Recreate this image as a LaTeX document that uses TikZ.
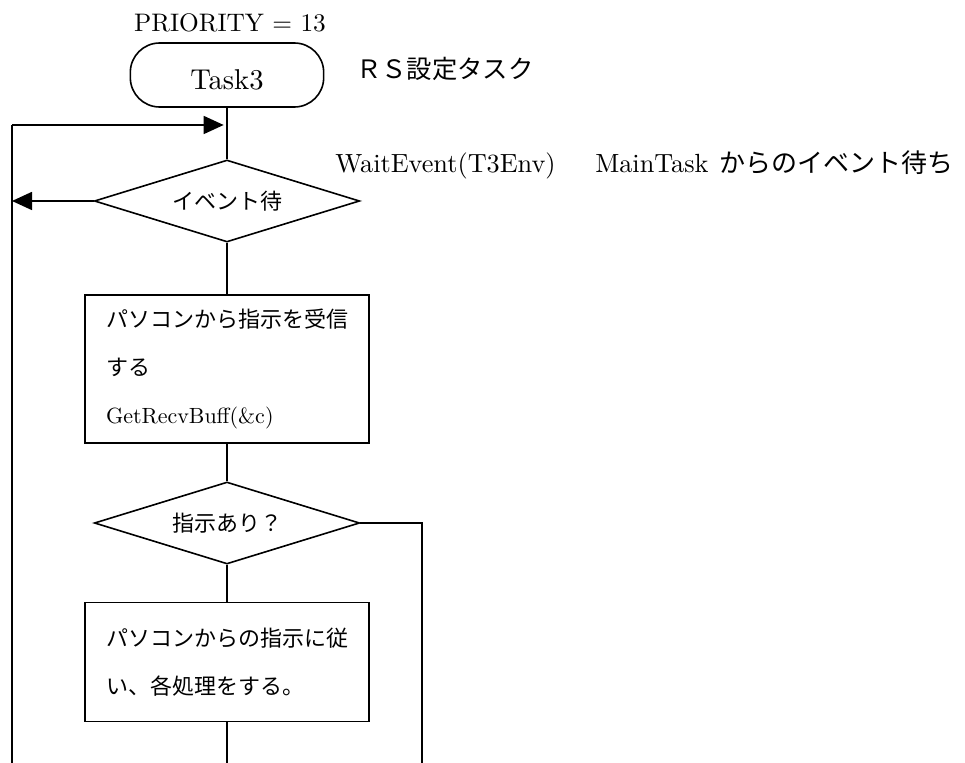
\documentclass[tikz,border=0pt]{standalone}
\usepackage{fontspec}
\setmainfont{lmroman10-regular}[Extension=.otf,BoldFont=lmroman10-bold]
\newfontfamily\jp{Noto Sans CJK JP}
\usetikzlibrary{arrows.meta,shapes.geometric,calc,positioning}

\begin{document}
\begin{tikzpicture}[x=0.75pt,y=-0.75pt,
    flowline/.style={line width=1.2pt},
    flowarrow/.style={line width=1.2pt,-{Triangle[length=15pt,width=13.5pt]}},
    terminal/.style={draw,line width=1.2pt,rounded corners=22pt,minimum width=145pt,minimum height=48pt,text height=22pt,font=\fontsize{21.5}{25}\selectfont},
    decision/.style={draw,diamond,aspect=3.2,inner sep=0pt,line width=1.2pt,minimum width=199pt,minimum height=61.5pt,font=\jp\fontsize{16.5}{20}\selectfont},
    process/.style={draw,rectangle,line width=1.2pt,minimum width=213pt,align=left,font=\fontsize{16.5}{36}\selectfont},
    note/.style={inner sep=0pt,font=\fontsize{19}{23}\selectfont}]

    \useasboundingbox (0,0) rectangle (965,763);

    % draw nodes
    \node[note,anchor=base] (prio) at (230,32) {PRIORITY = 13};
    \node[terminal] (task) at (227,75) {Task3};
    \node[note,anchor=west] (title) at (356,69) {\jp ＲＳ設定タスク};
    \node[decision] (wait) at (227,201) {イベント待};
    \node[note,anchor=base west,font=\fontsize{19.7}{23}\selectfont] (waitnote) at (335,173)
        {WaitEvent(T3Env){\jp　}\hspace{10pt}MainTask\hspace{2pt} {\jp\fontsize{19.5}{23}\selectfont からのイベント待ち}};
    \node[process,minimum height=111pt] (recv) at (227,369)
        {{\jp パソコンから指示を受信}\\{\jp する}\\GetRecvBuff(\&c)};
    \node[decision] (ask) at (227,523) {指示あり？};
    \node[process,minimum height=89pt] (exec) at (227,662)
        {{\jp パソコンからの指示に従}\\{\jp い、各処理をする。}};

    % loop coordinates
    \coordinate (loopTop) at (12,125);
    \coordinate (loopBot) at (12,763);
    \coordinate (skipTop) at (422,523);
    \coordinate (skipBot) at (422,763);
    \coordinate (mainBot) at (227,763);

    % draw connectors
    \draw[flowline] (task.south) -- (wait.north);
    \draw[flowline] (wait.south) -- (recv.north);
    \draw[flowline] (recv.south) -- (ask.north);
    \draw[flowline] (ask.south) -- (exec.north);
    \draw[flowline] (exec.south) -- (mainBot);
    \draw[flowline] (ask.east) -- (skipTop) -- (skipBot);
    \draw[flowline] (loopBot) -- (loopTop);
    \draw[flowarrow,shorten >=2.5pt] (loopTop) -- (task.south |- loopTop);
    \draw[flowarrow] (wait.west) -- (loopTop |- wait.west);

\end{tikzpicture}
\end{document}
